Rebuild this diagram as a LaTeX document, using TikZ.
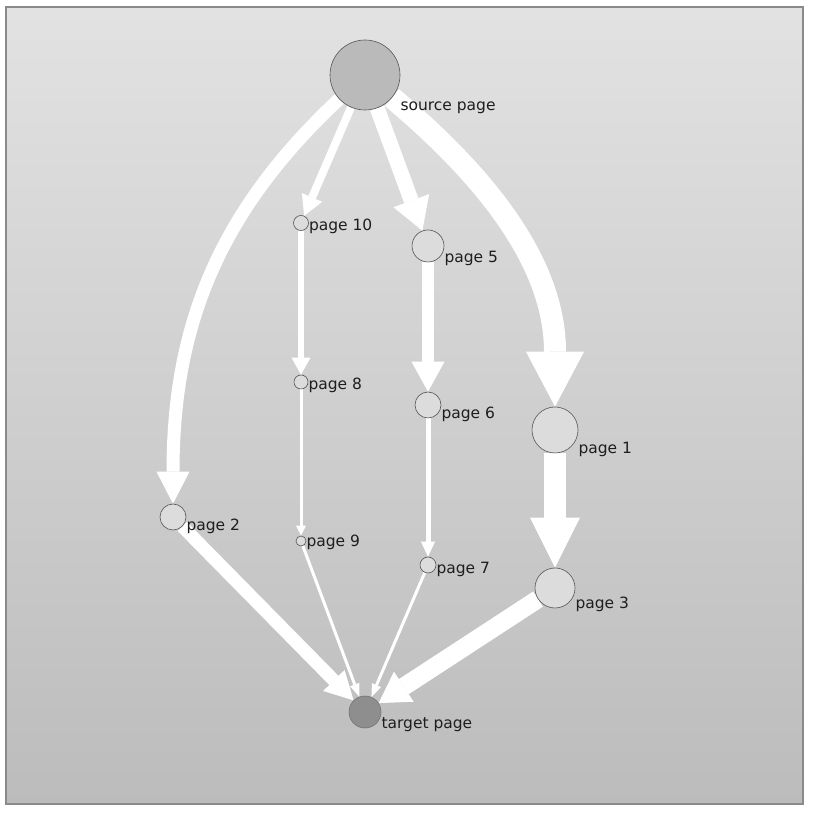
\documentclass[tikz,border=0pt]{standalone}
\usepackage{fontspec}
\setmainfont{DejaVu Sans}
\usetikzlibrary{arrows.meta}
\definecolor{panetop}{HTML}{E2E2E2}
\definecolor{panebot}{HTML}{BCBCBC}
\definecolor{paneline}{HTML}{8A8A8A}
\definecolor{pagefill}{HTML}{DCDCDC}
\definecolor{srcfill}{HTML}{BABABA}
\definecolor{tgtfill}{HTML}{8E8E8E}
\definecolor{rim}{HTML}{555555}
\definecolor{lbltext}{HTML}{1E1E1E}
\pgfdeclarelayer{back}
\pgfdeclarelayer{links}
\pgfsetlayers{back,links,main}

\begin{document}
\begin{tikzpicture}
[x=1pt, y=1pt, pagenode/.style={circle, draw=rim, line width=0.6pt, fill=pagefill, inner sep=0pt}, page label/.style={anchor=base west, inner sep=0pt, text=lbltext, font=\fontsize{15.5}{18}\selectfont}, flow/.style n args={3}{draw=white, line width=#1, -{Triangle[length=#2, width=#3, line width=0pt]}}]
    \useasboundingbox (0,0) rectangle (813,813);
    \node[pagenode, fill=srcfill, minimum size=70pt] (src) at (365,738) {};
    \node[pagenode, minimum size=15pt] (p10) at (301,590) {};
    \node[pagenode, minimum size=32pt] (p5) at (428,567) {};
    \node[pagenode, minimum size=14pt] (p8) at (301,431) {};
    \node[pagenode, minimum size=26pt] (p6) at (428,408) {};
    \node[pagenode, minimum size=46pt] (p1) at (555,383) {};
    \node[pagenode, minimum size=26pt] (p2) at (173,296) {};
    \node[pagenode, minimum size=10pt] (p9) at (301,272) {};
    \node[pagenode, minimum size=16pt] (p7) at (428,248) {};
    \node[pagenode, minimum size=40pt] (p3) at (555,225) {};
    \node[pagenode, draw=tgtfill!80!black, fill=tgtfill, minimum size=32pt] (tgt) at (365,101) {};
    \node[page label] (src label) at (src.south -| src.east) {source page};
    \node[page label] (p10 label) at (p10.south -| p10.east) {page 10};
    \node[page label] (p5 label) at (p5.south -| p5.east) {page 5};
    \node[page label] (p8 label) at (p8.south -| p8.east) {page 8};
    \node[page label] (p6 label) at (p6.south -| p6.east) {page 6};
    \node[page label] (p1 label) at (p1.south -| p1.east) {page 1};
    \node[page label] (p2 label) at (p2.south -| p2.east) {page 2};
    \node[page label] (p9 label) at (p9.south -| p9.east) {page 9};
    \node[page label] (p7 label) at (p7.south -| p7.east) {page 7};
    \node[page label] (p3 label) at (p3.south -| p3.east) {page 3};
    \node[page label] (tgt label) at (tgt.south -| tgt.east) {target page};
    \begin{pgfonlayer}{back}
    \shade[top color=panetop, bottom color=panebot] (6,9) rectangle (803,806);
    \draw[paneline, line width=1.5pt] (6,9) rectangle (803,806);
    \end{pgfonlayer}
    \begin{pgfonlayer}{links}
    \draw[flow={8pt}{20pt}{22pt}] (src) -- (p10);
    \draw[flow={15pt}{32pt}{38pt}] (src) -- (p5);
    \draw[flow={22pt}{55pt}{58pt}] (src) to[out=-40, in=90] (p1);
    \draw[flow={13pt}{32pt}{33pt}] (src) to[out=223, in=90] (p2);
    \draw[flow={6pt}{17pt}{19pt}] (p10) -- (p8);
    \draw[flow={3pt}{10pt}{10pt}] (p8) -- (p9);
    \draw[flow={12pt}{30pt}{33pt}] (p5) -- (p6);
    \draw[flow={5pt}{15pt}{14pt}] (p6) -- (p7);
    \draw[flow={22pt}{50pt}{50pt}] (p1) -- (p3);
    \draw[flow={13pt}{28pt}{30pt}] (p2) -- (tgt);
    \draw[flow={3pt}{13pt}{10pt}] (p9) -- (tgt);
    \draw[flow={3pt}{13pt}{10pt}] (p7) -- (tgt);
    \draw[flow={18pt}{30pt}{36pt}] (p3) -- (tgt);
    \end{pgfonlayer}
\end{tikzpicture}
\end{document}
